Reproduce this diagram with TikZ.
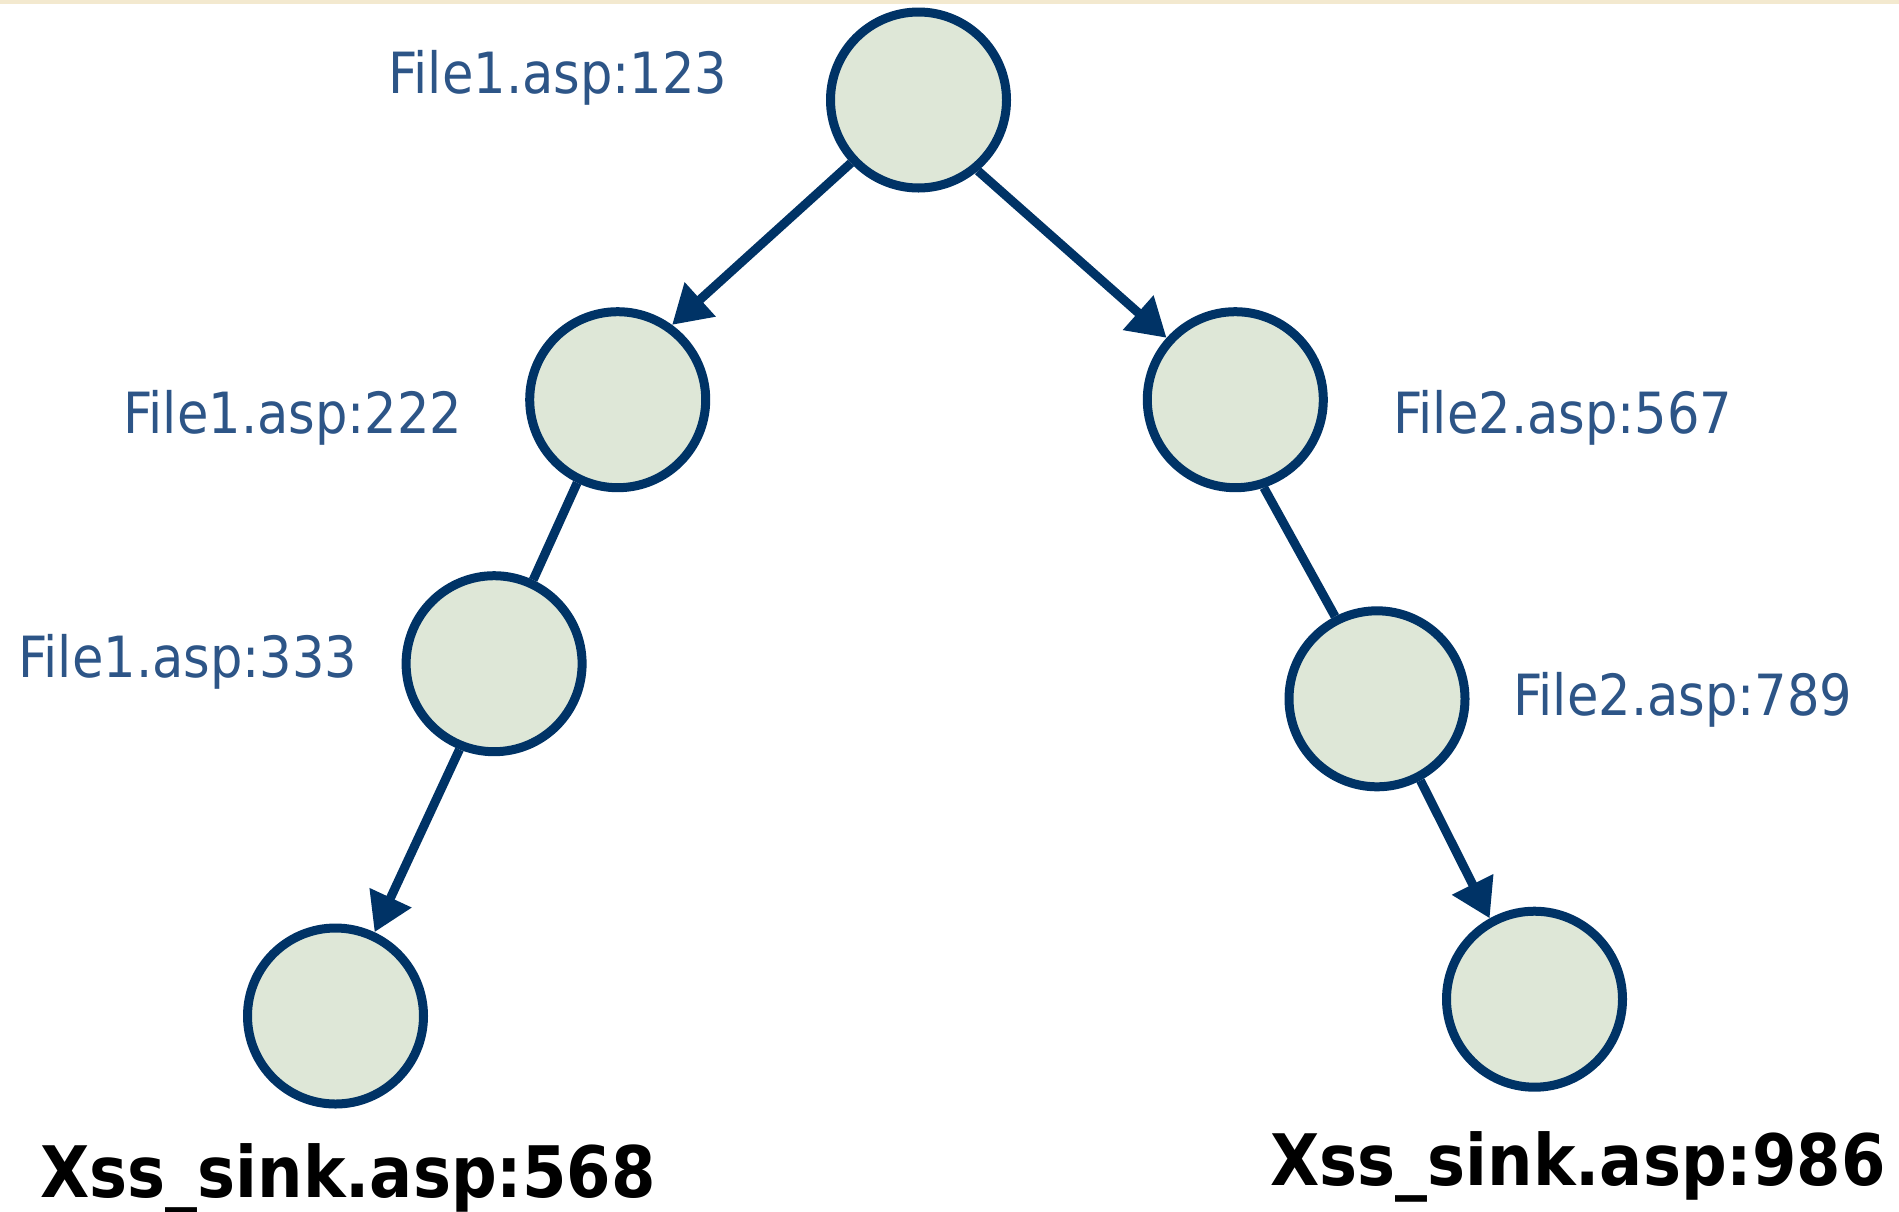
\documentclass[tikz,border=0pt]{standalone}
\usepackage{fontspec}
\setmainfont{DejaVu Sans Condensed}
\usetikzlibrary{arrows.meta}
\definecolor{nodefill}{HTML}{DEE7D7}
\definecolor{nodeline}{HTML}{003366}
\definecolor{labtext}{HTML}{2D5587}
\definecolor{topline}{HTML}{F3E9CF}
\begin{document}
\begin{tikzpicture}[x=0.5pt,y=-0.5pt,
  vtx/.style={circle,draw=nodeline,fill=nodefill,line width=4.5pt,minimum size=88pt,inner sep=0pt},
  edge/.style={draw=nodeline,line width=4.5pt},
  arr/.style={edge,-{Triangle[length=19pt,width=22pt]}},
  lab/.style={anchor=base west,inner sep=0pt,text=labtext,font=\fontsize{28.4pt}{30pt}\selectfont},
  sinklab/.style={anchor=base west,inner sep=0pt,text=black,font=\fontsize{35.5pt}{38pt}\selectfont\bfseries}]
\useasboundingbox (0,0) rectangle (1899,1211);
\fill[topline] (0,0) rectangle (1899,4);
\node[vtx] (r) at (918.5,100) {};
\node[vtx] (a) at (617.7,399.7) {};
\node[vtx] (b) at (1235.3,399.7) {};
\node[vtx] (c) at (494.1,663.7) {};
\node[vtx] (d) at (1377,698.8) {};
\node[vtx] (e) at (335.5,1016) {};
\node[vtx] (f) at (1534.5,999.2) {};
\draw[arr] (r.223) -- (a.54);
\draw[arr] (r.310) -- (b.138);
\draw[edge] (a.244) -- (c.65);
\draw[edge] (b.288) -- (d.117);
\draw[arr] (c.248) -- (e.65);
\draw[arr] (d.298) -- (f.119);
\node[lab] (l123) at (388,93) {File1.asp:123};
\node[lab] (l222) at (123,433) {File1.asp:222};
\node[lab] (l567) at (1393,433) {File2.asp:567};
\node[lab] (l333) at (18,677) {File1.asp:333};
\node[lab] (l789) at (1513,715) {File2.asp:789};
\node[sinklab] (s568) at (40,1197) {Xss\_sink.asp:568};
\node[sinklab] (s986) at (1270,1185) {Xss\_sink.asp:986};
\end{tikzpicture}
\end{document}
